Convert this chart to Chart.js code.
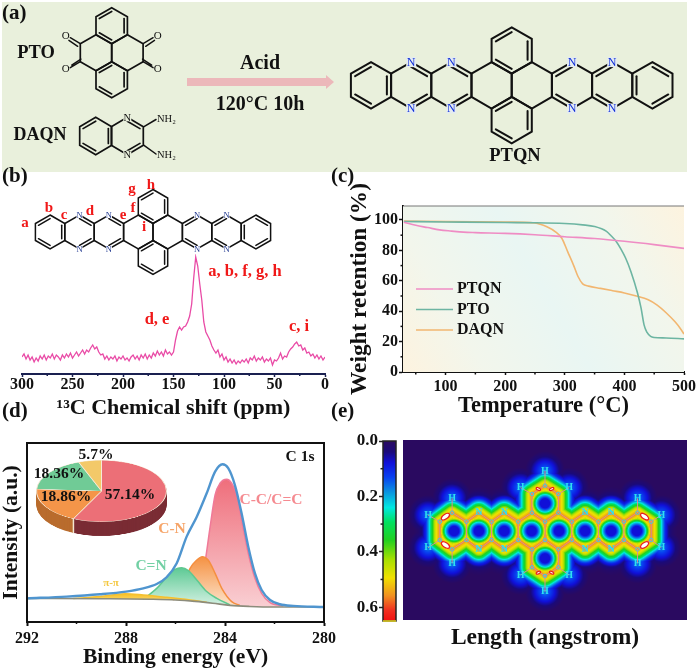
<!DOCTYPE html>
<html><head><meta charset="utf-8">
<script src="https://cdn.jsdelivr.net/npm/chart.js@4/dist/chart.umd.min.js"></script>
<style>
html,body{margin:0;padding:0;background:#fff;overflow:hidden}
#page{position:relative;width:700px;height:669px;overflow:hidden}
canvas{position:absolute;display:block}
</style></head><body><div id="page">
<canvas id="bg" width="700" height="669" style="left:0;top:0"></canvas>
<canvas id="cb" width="345" height="180" style="left:0;top:240px"></canvas>
<canvas id="cc" width="360" height="244" style="left:340px;top:176px"></canvas>
<canvas id="cd" width="345" height="236" style="left:0;top:433px"></canvas>
<canvas id="cp" width="131" height="163" style="left:36px;top:460px;transform-origin:0 0;transform:scaleY(0.473)"></canvas>
<canvas id="cbar" width="60" height="200" style="left:340px;top:431px"></canvas>
<canvas id="ce" width="297" height="230" style="left:403px;top:430px"></canvas>
<canvas id="ov" width="700" height="669" style="left:0;top:0;pointer-events:none"></canvas>
</div>
<script>
// ---------- (b) 13C NMR
const nmrShift=[300,298,296,294,292,290,288,286,284,282,280,278,276,274,272,270,268,266,264,262,260,258,256,254,252,250,248,246,244,242,240,238,236,234,232,230,228,226,224,222,220,218,216,214,212,210,208,206,204,202,200,198,196,194,192,190,188,186,184,182,180,178,176,174,172,170,168,166,164,162,160,158,156,154,152,150,148,146,144,142,140,138,136,134,132,130,128,126,124,122,120,118,116,114,112,110,108,106,104,102,100,98,96,94,92,90,88,86,84,82,80,78,76,74,72,70,68,66,64,62,60,58,56,54,52,50,48,46,44,42,40,38,36,34,32,30,28,26,24,22,20,18,16,14,12,10,8,6,4,2,0];
const nmrIntensity=[17,20,15,19,14,17,12,16,13,18,15,19,14,18,16,20,15,19,17,14,19,16,20,17,21,16,19,22,18,21,24,20,24,22,26,29,25,27,22,19,20,15,18,14,17,15,18,13,17,15,18,14,16,13,17,19,15,18,14,19,16,20,15,19,16,21,18,23,19,22,18,24,20,22,19,22,34,43,47,44,47,48,52,58,70,96,117,108,90,74,52,42,38,34,28,24,21,24,17,20,14,17,12,15,11,14,10,13,11,14,12,15,11,16,14,18,13,16,14,17,12,15,13,16,9,14,13,16,21,15,18,17,22,25,27,30,32,28,29,24,26,21,22,18,20,16,19,15,18,14,17];
const nmrTicks=[300,250,200,150,100,50,0];
// ---------- (c) TGA
const ptqnT=[30,50,70,90,110,130,150,200,250,300,350,400,450,500];
const ptqnW=[98.5,96.5,95,93.5,92.7,92,91.7,91.2,90.3,89,87.8,86,83.8,81.3];
const ptoT=[30,100,200,250,300,330,350,370,378,386,394,402,411,422,428,433,438,444,450,470,500];
const ptoW=[99,98.7,98.3,98.2,97.7,96.8,95.7,92.5,89.5,86,81,75,66,52,42,31,26,23.4,22.7,22.4,21.8];
const daqnT=[30,100,200,250,270,285,295,305,315,322,330,340,360,380,400,420,440,455,470,485,495,500];
const daqnW=[99.3,99,98.6,98,95.5,92,88,79,70,63,58,56.5,55,53.5,52,50,47.5,44,39,33,28,25];
// ---------- (d) XPS
const envE=[292,290.4,289.05,288,287.3,286.76,286.36,285.95,285.55,285.14,284.74,284.4,284.1,283.87,283.6,283.33,283.06,282.79,282.52,282.18,281.78,281.24,280];
const envI=[13.2,14.2,15.5,17,18.8,21.2,25,32.8,47.7,58.8,71.9,84,88.1,85.9,76.5,60.7,42.1,27.2,17.9,12.3,9.9,9,8.4];
const baseE=[292,289,287,286,285.2,284.5,283.8,283,282,280];
const baseI=[13.2,13,12.7,12.3,11.5,10.5,9.3,8.7,8.4,8.4];
const ccE=[285.28,285,284.78,284.6,284.4,284.2,283.93,283.73,283.53,283.33,283.06,282.79,282.52,282.18,281.64];
const ccI=[11.3,18,35.6,53.3,71,77.5,79.7,77.5,71,57,38.4,24.4,16,10.8,9];
const cnE=[286.09,285.75,285.41,285.14,284.92,284.68,284.4,284.13,283.73,283.4];
const cnI=[12.2,18.8,30,34.6,36.5,34.6,27.2,18.8,11.4,9.3];
const cdnE=[287.3,286.76,286.36,286.02,285.75,285.48,285.14,284.74,284.33,283.8];
const cdnI=[12.7,18.8,25,29.4,30.3,28.7,23.5,17,13.2,9.6];
const piE=[290.13,289.05,288.04,287.3,286.36,285.41,284.74];
const piI=[13.1,14.2,15.8,15.1,13.8,12.3,11];
const xpsTicks=[292,288,284,280];
const pieLabels=['C-C/C=C','C-N','C=N','π-π'];
const pieValues=[57.14,18.86,18.36,5.7];
// ---------- (e) ELF map: atoms and rings
const atomX=[322,402,478,561,640,720,798,877,285,365,440,520,600,680,760,836,918,285,365,440,520,600,680,760,836,918,322,402,478,561,640,720,798,877,600,561,640,561,640,600];
const atomY=[278,278,278,278,278,278,278,278,305,305,305,305,305,305,305,305,305,360,360,360,360,360,360,360,360,360,388,388,388,388,388,388,388,388,197,222,222,442,442,468];
const ringX=[328,402,478,560,642,720,798,875,600,600];
const ringY=[333,333,333,333,333,333,333,333,250,415];
const hX=[322,250,250,322,877,948,948,877,600,527,672,527,672,600];
const hY=[235,285,383,430,235,285,383,430,153,203,203,465,465,515];
const nX=[402,478,720,798,402,478,720,798];
const nY=[278,278,278,278,388,388,388,388];
const hotX=[302,302,898,898,580,620,580,620];
const hotY=[290,375,290,375,207,207,458,458];
const hotRx=[14,14,14,14,7,7,7,7];
const hotA=[-35,35,35,-35,25,-25,-25,25];
const elfStops=[[0,'#2a0a60'],[.06,'#1a0a7a'],[.12,'#1010d8'],[.2,'#0840f0'],[.28,'#0a90e0'],[.37,'#00e8e0'],[.45,'#00e060'],[.55,'#20d020'],[.66,'#a8e000'],[.76,'#f0e000'],[.86,'#f09020'],[.94,'#f03020'],[1,'#f01010']];
const elfTicks=[0,0.2,0.4,0.6];

const SERIF='"Liberation Serif","Times New Roman",serif';
Chart.defaults.animation=false;
Chart.defaults.responsive=false;
Chart.defaults.font.family=SERIF;
Chart.defaults.font.weight='bold';
Chart.defaults.color='#111';
Chart.defaults.events=[];
Chart.defaults.plugins.legend.display=false;
Chart.defaults.plugins.tooltip.enabled=false;
Chart.defaults.elements.point.radius=0;
const zip=(x,y)=>x.map((v,i)=>({x:v,y:y[i]}));
const tf=s=>({size:s,weight:'bold',family:SERIF,lineHeight:1});

const minorPlugin={id:'minorTicks',afterDraw(c,a,o){
  const g=c.ctx,A=c.chartArea;g.save();g.strokeStyle=o.color||'#111';g.lineWidth=1.5;
  (o.x||[]).forEach(v=>{const p=c.scales.x.getPixelForValue(v);g.beginPath();g.moveTo(p,A.bottom);g.lineTo(p,A.bottom+(o.len||2.5));g.stroke();});
  (o.y||[]).forEach(v=>{const p=c.scales.y.getPixelForValue(v);g.beginPath();g.moveTo(A.left,p);g.lineTo(A.left-(o.len||2.5),p);g.stroke();});
  g.restore();}};
const framePlugin={id:'frame',afterDraw(c,a,o){const g=c.ctx,A=c.chartArea;g.save();g.strokeStyle=o.color||'#111';g.lineWidth=o.width||2;g.strokeRect(A.left,A.top,A.width,A.height);g.restore();}};

// (b)
new Chart(document.getElementById('cb'),{type:'line',plugins:[minorPlugin],
 data:{datasets:[{data:zip(nmrShift,nmrIntensity),borderColor:'#e94ba6',borderWidth:1.3,tension:0}]},
 options:{layout:{autoPadding:false,padding:{left:22,right:20,top:14,bottom:0}},
  plugins:{minorTicks:{x:[275,225,175,125,75,25],color:'#1a2050',len:2}},
  scales:{
   x:{type:'linear',reverse:true,min:0,max:300,afterFit:s=>{s.height=46},
      afterBuildTicks:s=>{s.ticks=nmrTicks.map(v=>({value:v}))},
      grid:{drawOnChartArea:false,tickLength:3,tickColor:'#1a2050',tickWidth:1.5},border:{color:'#1a2050',width:2},
      ticks:{font:tf(16),padding:0,maxRotation:0,autoSkip:false},
      title:{display:true,text:'¹³C Chemical shift (ppm)',font:{...tf(22)},padding:{top:0,bottom:1},color:'#111'}},
   y:{display:false,min:0,max:120}}}});

// (c)
const tgaBg={id:'tgaBg',beforeDatasetsDraw(c){const g=c.ctx,A=c.chartArea;
  const gr=g.createLinearGradient(A.left,A.bottom,A.right,A.top);
  gr.addColorStop(0,'#fdf3df');gr.addColorStop(.22,'#f2f6ec');gr.addColorStop(.5,'#e9f6f3');gr.addColorStop(.78,'#f2f6ec');gr.addColorStop(1,'#fdf3df');
  g.save();g.fillStyle=gr;g.fillRect(A.left,A.top,A.width,A.height);
  g.strokeStyle='#777';g.lineWidth=1;g.beginPath();g.moveTo(A.left,A.top);g.lineTo(A.right,A.top);g.stroke();g.restore();}};
const tgaLegend={id:'tgaLegend',afterDraw(c){const g=c.ctx;g.save();g.textBaseline='middle';g.font='bold 16px '+SERIF;
  c.data.datasets.forEach((d,i)=>{const y=113+i*20.5;g.strokeStyle=d.borderColor;g.lineWidth=1.6;g.beginPath();g.moveTo(76,y);g.lineTo(113,y);g.stroke();g.fillStyle='#111';g.fillText(d.label,117,y);});
  g.restore();}};
new Chart(document.getElementById('cc'),{type:'line',plugins:[tgaBg,tgaLegend,minorPlugin],
 data:{datasets:[
  {label:'PTQN',data:zip(ptqnT,ptqnW),borderColor:'#ef8cc4',borderWidth:1.6,cubicInterpolationMode:'monotone'},
  {label:'PTO',data:zip(ptoT,ptoW),borderColor:'#6db5a2',borderWidth:1.6,cubicInterpolationMode:'monotone'},
  {label:'DAQN',data:zip(daqnT,daqnW),borderColor:'#f2b670',borderWidth:1.6,cubicInterpolationMode:'monotone'}]},
 options:{layout:{autoPadding:false,padding:{left:0,right:13,top:30,bottom:0}},
  plugins:{minorTicks:{x:[50,150,250,350,450],y:[10,30,50,70,90],len:2.5}},
  scales:{
   x:{type:'linear',min:28.6,max:500,afterFit:s=>{s.height=48},
      afterBuildTicks:s=>{s.ticks=[100,200,300,400,500].map(v=>({value:v}))},
      grid:{drawOnChartArea:false,tickLength:3,tickColor:'#111',tickWidth:1.5},border:{color:'#111',width:2},
      ticks:{font:tf(16),padding:4,maxRotation:0,autoSkip:false},
      title:{display:true,text:'Temperature (°C)',font:tf(22.5),padding:{top:0,bottom:3}}},
   y:{min:0,max:109.2,afterFit:s=>{s.width=63},
      afterBuildTicks:s=>{s.ticks=[0,20,40,60,80,100].map(v=>({value:v}))},
      grid:{drawOnChartArea:false,tickLength:4,tickColor:'#111',tickWidth:1.5},border:{color:'#111',width:2},
      ticks:{font:tf(16),padding:1,autoSkip:false},
      title:{display:true,text:'Weight retention (%)',font:tf(23.3),padding:{top:8,bottom:0}}}}}});

// (d)
const vGrad=(top,bottom)=>ctx=>{const c=ctx.chart,A=c.chartArea;if(!A)return top[0];
  const g=c.ctx.createLinearGradient(0,c.scales.y.getPixelForValue(top[2]),0,c.scales.y.getPixelForValue(bottom[1]));g.addColorStop(0,top[0]);g.addColorStop(1,bottom[0]);return g;};
const fillDs=(e,i,line,top,bot,peak)=>({data:zip(e,i),borderColor:line,borderWidth:1.5,cubicInterpolationMode:'monotone',
  fill:{target:1},backgroundColor:vGrad([top,0,peak],[bot,9])});
new Chart(document.getElementById('cd'),{type:'line',plugins:[framePlugin,minorPlugin],
 data:{datasets:[
  {data:zip(envE,envI),borderColor:'#4f95cf',borderWidth:2.4,cubicInterpolationMode:'monotone'},
  {data:zip(baseE,baseI),borderColor:'#8c8c7c',borderWidth:1.6,cubicInterpolationMode:'monotone'},
  fillDs(piE,piI,'#f4c030','#f7bf20','#fbe7a0',16),
  fillDs(cdnE,cdnI,'#5fc890','#5fca96','#d5f1e3',30),
  fillDs(cnE,cnI,'#f58f40','#f59345','#fde4cc',36),
  fillDs(ccE,ccI,'#f07a98','#ef6e7b','#f9ced2',80)]},
 options:{layout:{autoPadding:false,padding:{left:0,right:21,top:10,bottom:0}},
  plugins:{minorTicks:{x:[290,286,282],len:2}},
  scales:{
   x:{type:'linear',reverse:true,min:280,max:292,afterFit:s=>{s.height=47},
      afterBuildTicks:s=>{s.ticks=xpsTicks.map(v=>({value:v}))},
      grid:{drawOnChartArea:false,tickLength:4,tickColor:'#111',tickWidth:2},border:{color:'#111',width:2},
      ticks:{font:tf(16),padding:5,maxRotation:0,autoSkip:false},
      title:{display:true,text:'Binding energy (eV)',font:tf(21.5),padding:{top:0,bottom:1}}},
   y:{min:0,max:100,afterFit:s=>{s.width=27},
      ticks:{display:false},grid:{drawOnChartArea:false,drawTicks:false},border:{color:'#111',width:2},
      title:{display:true,text:'Intensity (a.u.)',font:tf(21.5),padding:{top:1,bottom:0}}}}}});

// (d) inset pie, squashed with CSS; side wall drawn from the library's arc elements
const sideCols=['#7a2c34','#b96c2e','#4a8a68','#b08a3c'];
const pieSide={id:'pieSide',beforeDatasetsDraw(c){const g=c.ctx,m=c.getDatasetMeta(0),D=30;g.save();
  for(let k=D;k>=1;k--){m.data.forEach((a,i)=>{const p=a.getProps(['x','y','startAngle','endAngle','outerRadius']);
    g.fillStyle=sideCols[i];g.beginPath();g.moveTo(p.x,p.y+k);g.arc(p.x,p.y+k,p.outerRadius,p.startAngle,p.endAngle);g.closePath();g.fill();});}
  const a=m.data[0].getProps(['x','y','endAngle','outerRadius']);
  const px=a.x+a.outerRadius*Math.cos(a.endAngle),py=a.y+a.outerRadius*Math.sin(a.endAngle);
  g.strokeStyle='#f3e6cf';g.lineWidth=1.5;g.beginPath();g.moveTo(px,py);g.lineTo(px,py+D);g.stroke();
  g.restore();}};
new Chart(document.getElementById('cp'),{type:'pie',plugins:[pieSide],
 data:{labels:pieLabels,datasets:[{data:pieValues,backgroundColor:['#ec6f77','#f49549','#70cb96','#f3c969'],borderColor:'#f6ead8',borderWidth:1}]},
 options:{layout:{autoPadding:false,padding:{left:0,right:0,top:0,bottom:32}},radius:'100%'}});

// (e) colour bar + map
function hex(h){return [parseInt(h.slice(1,3),16),parseInt(h.slice(3,5),16),parseInt(h.slice(5,7),16)];}
function colorAt(t){t=Math.max(0,Math.min(1,t));for(let i=1;i<elfStops.length;i++){if(t<=elfStops[i][0]){const a=elfStops[i-1],b=elfStops[i],f=(t-a[0])/(b[0]-a[0]),A=hex(a[1]),B=hex(b[1]);return [0,1,2].map(k=>A[k]+(B[k]-A[k])*f);}}return hex('#f01010');}
const barFill={id:'barFill',beforeDatasetsDraw(c){const g=c.ctx,A=c.chartArea,gr=g.createLinearGradient(0,A.top,0,A.bottom);
  elfStops.forEach(s=>gr.addColorStop(s[0],s[1]));g.save();g.fillStyle=gr;g.fillRect(A.left,A.top,A.width,A.height);
  g.strokeStyle='#222';g.lineWidth=1.5;g.strokeRect(A.left,A.top,A.width,A.height);
  g.strokeStyle='#e8d820';g.beginPath();g.moveTo(A.left,A.bottom);g.lineTo(A.right,A.bottom);g.stroke();g.restore();}};
new Chart(document.getElementById('cbar'),{type:'line',plugins:[barFill,minorPlugin],
 data:{datasets:[{data:[]}]},
 options:{layout:{autoPadding:false,padding:{left:0,right:4,top:10,bottom:10}},
  plugins:{minorTicks:{y:[.1,.3,.5],len:2.5,color:'#222'}},
  scales:{x:{display:false},
   y:{reverse:true,min:0,max:0.65,afterFit:s=>{s.width=43},
      afterBuildTicks:s=>{s.ticks=elfTicks.map(v=>({value:v}))},
      grid:{drawOnChartArea:false,tickLength:4,tickColor:'#222',tickWidth:1.5},border:{display:false},
      ticks:{font:tf(17),padding:1,callback:v=>Number(v).toFixed(1),autoSkip:false}}}}});

const bonds=[];for(let i=0;i<atomX.length;i++)for(let j=i+1;j<atomX.length;j++){if(Math.hypot(atomX[i]-atomX[j],atomY[i]-atomY[j])<62)bonds.push([atomX[i],atomY[i],atomX[j],atomY[j]]);}
const hBonds=hX.map((x,i)=>{let b=0,d=1e9;atomX.forEach((a,k)=>{const q=Math.hypot(a-x,atomY[k]-hY[i]);if(q<d){d=q;b=k}});return [x,hY[i],atomX[b],atomY[b]];});
const dCurve=[[0,.86],[6,.8],[13,.72],[18,.62],[24,.5],[30,.38],[35,.28],[43,.15],[52,.07],[65,.02],[78,0]];
const hCurve=[[0,.27],[15,.2],[30,.12],[45,.05],[60,0]];
const wellCurve=[[0,.12],[14,.12],[21,.26],[27,.38],[32,.55],[37,.7],[44,1]];
const lerpC=(cv,d,end)=>{for(let i=1;i<cv.length;i++){if(d<=cv[i][0]){const f=(d-cv[i-1][0])/(cv[i][0]-cv[i-1][0]);return cv[i-1][1]+(cv[i][1]-cv[i-1][1])*f;}}return end;};
function segD(u,v,b){const dx=b[2]-b[0],dy=b[3]-b[1];let t=((u-b[0])*dx+(v-b[1])*dy)/(dx*dx+dy*dy);t=t<0?0:t>1?1:t;return Math.hypot(u-b[0]-t*dx,v-b[1]-t*dy);}
const elfMap={id:'elfMap',beforeDatasetsDraw(c){const g=c.ctx,A=c.chartArea,W=Math.round(A.width),H=Math.round(A.height);
  const off=document.createElement('canvas');off.width=W;off.height=H;const o=off.getContext('2d'),im=o.createImageData(W,H);
  for(let py=0;py<H;py++)for(let px=0;px<W;px++){
    const u=c.scales.x.getValueForPixel(A.left+px+.5),v=c.scales.y.getValueForPixel(A.top+py+.5);
    let d=1e9,dh=1e9,dr=1e9;for(const b of bonds){const q=segD(u,v,b);if(q<d)d=q;}
    for(let k=0;k<hX.length;k++){const q=Math.hypot(u-hX[k],v-hY[k]);if(q<dh)dh=q;}
    for(let k=0;k<ringX.length;k++){const q=Math.hypot(u-ringX[k],v-ringY[k]);if(q<dr)dr=q;}
    const t=Math.min(Math.max(lerpC(dCurve,d,0),lerpC(hCurve,dh,0)),lerpC(wellCurve,dr,1));
    const col=colorAt(t),i=(py*W+px)*4;
    im.data[i]=col[0];im.data[i+1]=col[1];im.data[i+2]=col[2];im.data[i+3]=255;}
  o.putImageData(im,0,0);g.drawImage(off,A.left,A.top);
  const X=v=>c.scales.x.getPixelForValue(v),Y=v=>c.scales.y.getPixelForValue(v);
  g.save();g.strokeStyle='#e08a90';g.lineWidth=1;
  bonds.concat(hBonds).forEach(b=>{g.beginPath();g.moveTo(X(b[0]),Y(b[1]));g.lineTo(X(b[2]),Y(b[3]));g.stroke();});
  hotX.forEach((x,i)=>{g.beginPath();g.ellipse(X(x),Y(hotY[i]),hotRx[i]/3,hotRx[i]/6,hotA[i]*Math.PI/180,0,7);g.fillStyle='#fff';g.fill();g.strokeStyle='#e82020';g.lineWidth=1.2;g.stroke();});
  g.restore();},
 afterDatasetsDraw(c){const g=c.ctx,X=v=>c.scales.x.getPixelForValue(v),Y=v=>c.scales.y.getPixelForValue(v);g.save();g.textAlign='center';g.textBaseline='middle';g.font='bold 10px '+SERIF;g.fillStyle='#2fe0f0';
  hX.forEach((x,i)=>g.fillText('H',X(x),Y(hY[i])));nX.forEach((x,i)=>g.fillText('N',X(x),Y(nY[i])));g.restore();}};
new Chart(document.getElementById('ce'),{type:'scatter',plugins:[elfMap],
 data:{datasets:[{data:zip(atomX,atomY),pointRadius:1.8,pointBackgroundColor:'rgba(0,0,0,0)',pointBorderColor:'#45cbe0',pointBorderWidth:1}]},
 options:{layout:{autoPadding:false,padding:{left:0,right:13,top:10,bottom:0}},
  scales:{
   x:{type:'linear',min:175,max:1025,afterFit:s=>{s.height=40},ticks:{display:false},grid:{display:false},border:{display:false},
      title:{display:true,text:'Length (angstrom)',font:tf(23.5),padding:{top:0,bottom:10}}},
   y:{display:false,reverse:true,min:60,max:600}}}});

// ---------- schematic layers
const bg=document.getElementById('bg').getContext('2d');
const GREEN='#e9f0dc';
bg.fillStyle='#fff';bg.fillRect(0,0,700,669);
bg.fillStyle=GREEN;bg.fillRect(2,2,685,170);
const ov=document.getElementById('ov').getContext('2d');
function T(s,x,y,size,color,align){ov.font='bold '+size+'px '+SERIF;ov.fillStyle=color||'#111';ov.textAlign=align||'center';ov.textBaseline='middle';ov.fillText(s,x,y);}
function hexV(cx,cy,dx,R){return [[cx,cy-R],[cx+dx,cy-R/2],[cx+dx,cy+R/2],[cx,cy+R],[cx-dx,cy+R/2],[cx-dx,cy-R/2]];}
function ring(cx,cy,dx,R,doubles,lw){const v=hexV(cx,cy,dx,R);ov.strokeStyle='#111';ov.lineWidth=lw;ov.lineCap='round';
  ov.beginPath();v.forEach((p,i)=>i?ov.lineTo(p[0],p[1]):ov.moveTo(p[0],p[1]));ov.closePath();ov.stroke();
  doubles.forEach(e=>{const a=v[e],b=v[(e+1)%6],f=.21;ov.beginPath();ov.moveTo(a[0]+(cx-a[0])*f,a[1]+(cy-a[1])*f);ov.lineTo(b[0]+(cx-b[0])*f,b[1]+(cy-b[1])*f);ov.stroke();});}
function atomN(s,x,y,size,col,halo,hr){ov.fillStyle=halo;ov.fillRect(x-hr,y-hr,hr*2,hr*2);ov.font=size+'px '+SERIF;ov.fillStyle=col;ov.textAlign='center';ov.textBaseline='middle';ov.fillText(s,x,y+.5);}
function ptqnMol(cx,cy,dx,R,lw,ns,nc,halo,hr){
  const rs=[[-7,0,[5,3,1]],[-5,0,[0,2]],[-3,0,[0,2]],[-1,0,[]],[1,0,[]],[3,0,[5,3]],[5,0,[5,3]],[7,0,[4,0,2]]];
  rs.forEach(r=>ring(cx+r[0]*dx,cy,dx,R,r[2],lw));
  ring(cx,cy-1.5*R,dx,R,[5,1,3],lw);ring(cx,cy+1.5*R,dx,R,[5,1,3],lw);
  [-5,-3,3,5].forEach(k=>{atomN('N',cx+k*dx,cy-R,ns,nc,halo,hr);atomN('N',cx+k*dx,cy+R,ns,nc,halo,hr);});
}
// (a)
T('(a)',2,14,21,'#111','left');
T('PTO',36,53,18.5);T('DAQN',40,135,18);
{const cx=111.7,cy=52.7,dx=15.7,R=18,lw=1.7;
 ring(cx-dx,cy,dx,R,[],lw);ring(cx+dx,cy,dx,R,[],lw);ring(cx,cy-1.5*R,dx,R,[5,1,3],lw);ring(cx,cy+1.5*R,dx,R,[5,1,3],lw);
 [[-1,-1],[-1,1],[1,-1],[1,1]].forEach(q=>{const x0=cx+q[0]*2*dx,y0=cy+q[1]*R/2,x1=x0+q[0]*10,y1=y0+q[1]*6;ov.lineWidth=1.4;
  ov.beginPath();ov.moveTo(x0,y0);ov.lineTo(x1,y1);ov.moveTo(x0+q[0]*1-q[0]*q[1]*1.6,y0-q[1]*2.6);ov.lineTo(x1-q[0]*q[1]*1.4,y1-q[1]*2.6);ov.stroke();
  ov.font='11px '+SERIF;ov.fillStyle='#111';ov.textAlign='center';ov.textBaseline='middle';ov.fillText('O',x1+q[0]*4.5,y1+q[1]*1.5);});
}
{const cy=136,dx=16,R=18.7,lw=1.7;ring(95.7,cy,dx,R,[5,3,1],lw);ring(127.3,cy,dx,R,[0,2],lw);
 atomN('N',127.3,cy-R,10.5,'#111',GREEN,4);atomN('N',127.3,cy+R,10.5,'#111',GREEN,4);
 ov.lineWidth=1.5;ov.beginPath();ov.moveTo(144,cy-R/2);ov.lineTo(156,119.5);ov.moveTo(144,cy+R/2);ov.lineTo(156,154);ov.stroke();
 [119.5,155].forEach(y=>{ov.font='10.5px '+SERIF;ov.fillStyle='#111';ov.textAlign='left';ov.textBaseline='middle';ov.fillText('NH₂',157,y);});
}
ov.fillStyle='#ecb8ba';ov.fillRect(187,78,139,8);ov.beginPath();ov.moveTo(326,75);ov.lineTo(334,82);ov.lineTo(326,89);ov.closePath();ov.fill();
T('Acid',260,64,20);T('120°C 10h',260,105,20);
ptqnMol(511.7,85.3,20.1,23.2,2,12,'#1030d8','#e4ebf0',5);
T('PTQN',515,156,18.5);
// panel tags
T('(b)',2,177,21,'#111','left');T('(c)',331,177,21,'#111','left');T('(d)',2,412,21,'#111','left');T('(e)',331,412,21,'#111','left');
// (b) molecule + labels
ptqnMol(153,232,14.7,17,1.5,8.5,'#203890','#fff',3);
const RED='#f01818';
[['a',25,223],['b',49,208],['c',64,215],['d',90,211],['e',123,215],['f',133,208],['g',132,189],['h',151,185],['i',144,227]].forEach(l=>T(l[0],l[1],l[2],15,RED));
T('a, b, f, g, h',245,272,16.5,RED);T('d, e',157,320,16.5,RED);T('c, i',299,327,16.5,RED);
// (d) annotations
T('C 1s',300,457,15.5,'#111');T('C-C/C=C',271,500,15.5,'#f58a90');T('C-N',172,529,15.5,'#f6a468');T('C=N',151,566,15.5,'#72d0a4');T('π-π',111,583,11,'#f4c840');
T(pieValues[0].toFixed(2)+'%',130,495,15.5);T(pieValues[1].toFixed(2)+'%',66,497,15.5);T(pieValues[2].toFixed(2)+'%',59,474,15.5);T(pieValues[3].toFixed(1)+'%',96,455,15.5);
</script></body></html>
